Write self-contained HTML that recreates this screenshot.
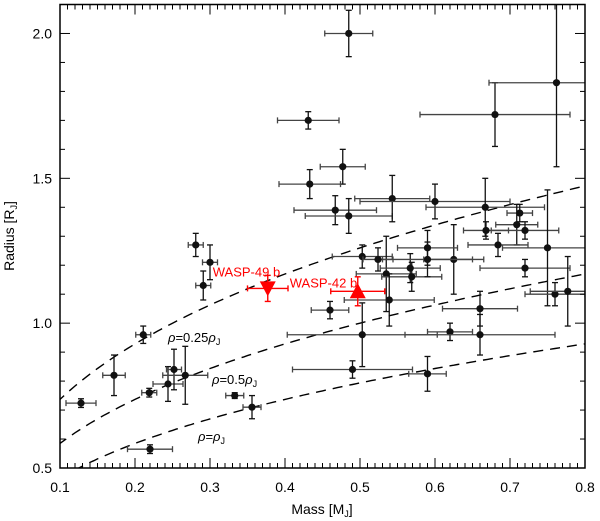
<!DOCTYPE html>
<html><head><meta charset="utf-8"><style>
html,body{margin:0;padding:0;background:#fff;}
svg{display:block;font-family:"Liberation Sans",sans-serif;}
</style></head><body>
<svg id="chart" width="600" height="521" viewBox="0 0 600 521"></svg>
<script>
const mass   = [0.485,0.431,0.477,0.433,0.467,0.485,0.543,0.600,0.667,0.713,0.709,0.720,0.668,0.680,0.762,0.503,0.524,0.535,0.567,0.569,0.625,0.684,0.720,0.750,0.760,0.777,0.539,0.590,0.590,0.460,0.503,0.620,0.660,0.660,0.490,0.590,0.211,0.172,0.128,0.219,0.244,0.252,0.267,0.333,0.356,0.220,0.291,0.300,0.281];
const radius = [2.00,1.70,1.54,1.48,1.39,1.37,1.43,1.42,1.40,1.38,1.34,1.32,1.32,1.72,1.83,1.23,1.22,1.17,1.19,1.16,1.22,1.27,1.19,1.26,1.10,1.11,1.08,1.22,1.26,1.045,0.96,0.97,1.05,0.96,0.84,0.825,0.96,0.82,0.724,0.76,0.79,0.84,0.82,0.75,0.71,0.565,1.13,1.21,1.27];
const massErr= [0.032,0.041,0.030,0.041,0.055,0.058,0.050,0.100,0.079,0.017,0.028,0.045,0.030,0.100,0.090,0.040,0.020,0.040,0.040,0.040,0.040,0.040,0.060,0.060,0.040,0.050,0.060,0.060,0.040,0.025,0.100,0.030,0.050,0.100,0.080,0.025,0.010,0.015,0.020,0.010,0.020,0.010,0.030,0.012,0.012,0.030,0.010,0.010,0.010];
const radErr = [0.08,0.03,0.06,0.05,0.05,0.06,0.08,0.06,0.10,0.03,0.07,0.03,0.03,0.11,0.29,0.04,0.04,0.13,0.05,0.05,0.12,0.04,0.03,0.20,0.04,0.12,0.09,0.06,0.06,0.03,0.11,0.03,0.06,0.07,0.03,0.06,0.03,0.07,0.015,0.015,0.06,0.07,0.10,0.01,0.04,0.015,0.05,0.06,0.04];
const redNames = ["WASP-49 b","WASP-42 b"];
const redMass = [0.377,0.497];
const redRadius = [1.12,1.11];
const redMassErr = [0.027,0.036];
const redRadErr = [0.045,0.05];
const densities = [0.25,0.5,1.0];
const densityLabels = ["0.25","0.5",""];
const xTicks = [0.1,0.2,0.3,0.4,0.5,0.6,0.7,0.8];
const yTicks = [0.5,1.0,1.5,2.0];

const X0=60,X1=585,Y0=468,Y1=4.5;
const xMin=0.1,xMax=0.8,yMin=0.5,yMax=2.1;
const sx=v=>X0+(v-xMin)/(xMax-xMin)*(X1-X0);
const sy=v=>Y0-(v-yMin)/(yMax-yMin)*(Y0-Y1);
const svg=document.getElementById('chart');
const NS='http://www.w3.org/2000/svg';
function mk(tag,attrs,parent){const e=document.createElementNS(NS,tag);for(const k in attrs)e.setAttribute(k,attrs[k]);(parent||svg).appendChild(e);return e;}

const clip=mk('clipPath',{id:'pc'});mk('rect',{x:X0,y:Y1,width:X1-X0,height:Y0-Y1},clip);

// density curves
densities.forEach((d,i)=>{
  let pts=[];
  for(let m=0.08;m<=0.8001;m+=0.005){pts.push(sx(m).toFixed(1)+','+sy(Math.cbrt(m/d)).toFixed(1));}
  const p=mk('polyline',{points:pts.join(' '),fill:'none',stroke:'#000','stroke-width':1.4,'stroke-dasharray':'10,7','clip-path':'url(#pc)'});
  
  
});

// points
const g=mk('g',{});


mass.forEach((m,i)=>{
  const pg=mk('g',{'clip-path':'url(#pc)'},g);
  
  
  const x=sx(m),y=sy(radius[i]),xa=sx(m-massErr[i]),xb=sx(m+massErr[i]),ya=sy(radius[i]-radErr[i]),yb=sy(radius[i]+radErr[i]);
  mk('line',{x1:xa,x2:xb,y1:y,y2:y,stroke:'#444','stroke-width':1.3},pg);
  mk('line',{x1:xa,x2:xa,y1:y-3,y2:y+3,stroke:'#444','stroke-width':1.3},pg);
  mk('line',{x1:xb,x2:xb,y1:y-3,y2:y+3,stroke:'#444','stroke-width':1.3},pg);
  mk('line',{x1:x,x2:x,y1:ya,y2:yb,stroke:'#111','stroke-width':1.3},pg);
  mk('line',{x1:x-3,x2:x+3,y1:ya,y2:ya,stroke:'#111','stroke-width':1.3},pg);
  mk('line',{x1:x-3,x2:x+3,y1:yb,y2:yb,stroke:'#111','stroke-width':1.3},pg);
  mk('circle',{cx:x,cy:y,r:3.6,fill:'#111'},pg);
});

// red targets
redMass.forEach((m,i)=>{
  const pg=mk('g',{});
  
  
  const x=sx(m),y=sy(redRadius[i]),xa=sx(m-redMassErr[i]),xb=sx(m+redMassErr[i]),ya=sy(redRadius[i]-redRadErr[i]),yb=sy(redRadius[i]+redRadErr[i]);
  const c='#f00';
  mk('line',{x1:xa,x2:xb,y1:y,y2:y,stroke:c,'stroke-width':1.4},pg);
  mk('line',{x1:xa,x2:xa,y1:y-3,y2:y+3,stroke:c,'stroke-width':1.4},pg);
  mk('line',{x1:xb,x2:xb,y1:y-3,y2:y+3,stroke:c,'stroke-width':1.4},pg);
  mk('line',{x1:x,x2:x,y1:ya,y2:yb,stroke:c,'stroke-width':1.4},pg);
  mk('line',{x1:x-3,x2:x+3,y1:ya,y2:ya,stroke:c,'stroke-width':1.4},pg);
  mk('line',{x1:x-3,x2:x+3,y1:yb,y2:yb,stroke:c,'stroke-width':1.4},pg);
  const pts = i===0 ? `${x-8},${y-7} ${x+8},${y-7} ${x},${y+8}` : `${x-8},${y+7} ${x+8},${y+7} ${x},${y-8}`;
  mk('polygon',{points:pts,fill:c},pg);
  const t=mk('text',{x: i===0 ? x-55 : x-68, y: i===0 ? y-12 : y-4,fill:c,'font-size':13},pg);
  t.textContent=redNames[i];
  
  
});

// density labels
const dl=[[168,342,"0.25"],[212,384,"0.5"],[198,441,""]];
dl.forEach((a,i)=>{
  const t=mk('text',{x:a[0],y:a[1],'font-size':13,fill:'#000'});
  
  
  t.innerHTML='<tspan font-style="italic">ρ</tspan>='+densityLabels[i]+'<tspan font-style="italic">ρ</tspan><tspan font-size="9" dy="3">J</tspan>';
});

// frame & ticks
const fr=mk('rect',{x:X0,y:Y1,width:X1-X0,height:Y0-Y1,fill:'none',stroke:'#000','stroke-width':1.5});


for(let k=0;k<=70;k++){
  const v=0.1+k*0.01,x=sx(v),L=(k%10===0)?10:5;
  mk('line',{x1:x,x2:x,y1:Y0,y2:Y0-L,stroke:'#000','stroke-width':1});
  mk('line',{x1:x,x2:x,y1:Y1,y2:Y1+L,stroke:'#000','stroke-width':1});
}
for(let k=0;k<=16;k++){
  const v=0.5+k*0.1,y=sy(v),L=(k%5===0)?10:5;
  mk('line',{x1:X0,x2:X0+L,y1:y,y2:y,stroke:'#000','stroke-width':1});
  mk('line',{x1:X1,x2:X1-L,y1:y,y2:y,stroke:'#000','stroke-width':1});
}
xTicks.forEach(v=>{
  const t=mk('text',{x:sx(v),y:492,'text-anchor':'middle','font-size':14});
  t.textContent=v.toFixed(1);
  
  
});
yTicks.forEach(v=>{
  const t=mk('text',{x:52,y:sy(v)+5,'text-anchor':'end','font-size':14});
  t.textContent=v.toFixed(1);
  
  
});
const xt=mk('text',{x:322,y:514,'text-anchor':'middle','font-size':14});
xt.innerHTML='Mass [M<tspan font-size="9" dy="3">J</tspan><tspan dy="-3">]</tspan>';


const yt=mk('text',{x:0,y:0,'text-anchor':'middle','font-size':14,transform:'translate(14,236) rotate(-90)'});
yt.innerHTML='Radius [R<tspan font-size="9" dy="3">J</tspan><tspan dy="-3">]</tspan>';


</script>
</body></html>
